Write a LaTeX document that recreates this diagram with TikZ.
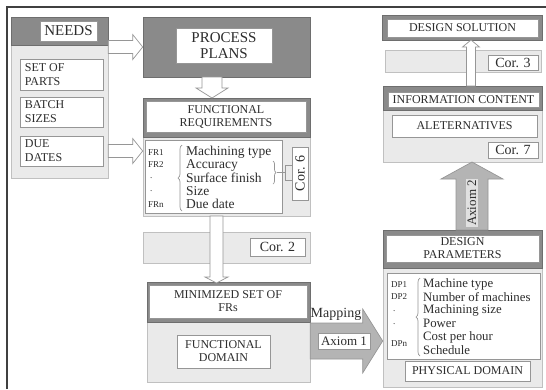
\documentclass[tikz,border=0pt]{standalone}
\usepackage{fontspec}
\setmainfont{Liberation Serif}
\usetikzlibrary{calc,decorations.pathreplacing}
\definecolor{hdrgray}{RGB}{138,138,138}
\definecolor{bodygray}{RGB}{234,234,234}
\definecolor{edgegray}{RGB}{150,150,150}
\definecolor{arrowgray}{RGB}{180,180,180}
\definecolor{textc}{RGB}{45,45,45}
\newcommand\fsz[2]{\fontsize{#1}{#2}\selectfont}
% box from corner (x1,y1) to (x2,y2): #1 style, #2 name, #3 x1, #4 y1, #5 x2, #6 y2, #7 text
\newcommand\bx[7]{%
  \node[#1, minimum width=#5pt-#3pt, minimum height=#6pt-#4pt] (#2) at ({(#3+#5)/2},{(#4+#6)/2}) {#7};}
% #1 style, #2 start, #3 end, #4 half shaft, #5 half head, #6 head length
\newcommand\blockarrow[6]{%
  \coordinate (bahead) at ($(#3)!#6!(#2)$);
  \path[#1] ($(#2)!#4!90:(#3)$) -- ($(bahead)!#4!90:(#3)$) -- ($(bahead)!#5!90:(#3)$)
    -- (#3) -- ($(bahead)!#5!-90:(#3)$) -- ($(bahead)!#4!-90:(#3)$)
    -- ($(#2)!#4!-90:(#3)$) -- cycle;}
\begin{document}
\begin{tikzpicture}[x=1pt,y=-1pt,
  body/.style={fill=bodygray, draw=edgegray!60, line width=0.6pt, inner sep=0pt},
  hdr/.style={fill=hdrgray, draw=hdrgray!80!black, line width=0.6pt, inner sep=0pt},
  wbox/.style={fill=white, draw=edgegray, line width=0.7pt, inner sep=0pt, align=center, text=textc},
  hollow/.style={fill=white, draw=edgegray, line width=0.7pt},
  solidarr/.style={fill=arrowgray, draw=edgegray, line width=0.7pt},
  capt/.style={font=\fsz{12}{13}},
  lefttxt/.style={anchor=west, align=left, inner sep=0pt, text=textc, font=\fsz{12}{14}},
  lbl/.style={anchor=west, inner sep=0pt, text=textc, font=\fsz{9}{10}},
  itm/.style={anchor=west, inner sep=0pt, text=textc, font=\fsz{13.5}{14}},
  dpitm/.style={anchor=west, inner sep=0pt, text=textc, font=\fsz{12.8}{13}},
  corf/.style={font=\fsz{14}{15}},
  frameline/.style={draw=black!75, line width=1.2pt},
  thinline/.style={draw=edgegray, line width=0.7pt}
]
\useasboundingbox (0,0) rectangle (546,389);
\draw[frameline] (7,389) -- (7,7) -- (546,7);

% NEEDS group
\bx{body}{needsBody}{11}{17}{108}{178}{}
\bx{hdr}{needsHdr}{11}{17}{108}{45}{}
\bx{wbox,font=\fsz{15}{16}}{needsT}{40}{21}{97}{41}{NEEDS}
\bx{wbox}{setParts}{20}{59}{103}{90}{}
\node[lefttxt] (setPartsT) at ([xshift=5pt]setParts.west) {SET OF\\PARTS};
\bx{wbox}{batch}{20}{97}{103}{127}{}
\node[lefttxt] (batchT) at ([xshift=5pt]batch.west) {BATCH\\SIZES};
\bx{wbox}{due}{20}{136}{103}{166}{}
\node[lefttxt] (dueT) at ([xshift=5pt]due.west) {DUE\\DATES};

% PROCESS PLANS
\bx{hdr}{pp}{143}{17}{310}{77}{}
\bx{wbox,font=\fsz{15}{16}}{ppT}{176}{28}{272}{63}{PROCESS\\PLANS}

% FUNCTIONAL REQUIREMENTS
\bx{body}{frBody}{143}{98}{310}{216}{}
\bx{hdr}{frHdr}{143}{98}{310}{137}{}
\bx{wbox,capt}{frT}{146}{101}{306}{132}{FUNCTIONAL\\REQUIREMENTS}
\bx{wbox}{frList}{145}{140}{282}{213}{}
\node[lbl] (fr1) at (148,153) {FR1};
\node[lbl] (fr2) at (148,165) {FR2};
\node[lbl] (frd1) at (150,178) {.};
\node[lbl] (frd2) at (150,191) {.};
\node[lbl] (frn) at (148,205) {FRn};
\draw[thinline, decorate, decoration={brace, amplitude=4pt}] (182,211) -- (182,145);
\node[itm] (i1) at (186,152) {Machining type};
\node[itm] (i2) at (186,165) {Accuracy};
\node[itm] (i3) at (186,178) {Surface finish};
\node[itm] (i4) at (186,191) {Size};
\node[itm] (i5) at (186,204) {Due date};
\node[wbox, rotate=90, minimum width=53pt, minimum height=16pt, corf] (cor6) at (300,173.5) {Cor. 6};
\draw[thinline, decorate, decoration={brace, amplitude=3pt}] (273,161) -- (273,184);
\coordinate (c6a) at (285,165);
\coordinate (c6b) at (285,180);
\draw[thinline] (277,172.5) -- (285,172.5);
\draw[thinline] (c6a) -- (c6b);
\draw[thinline] (c6a) -- (c6a -| cor6.north);
\draw[thinline] (c6b) -- (c6b -| cor6.north);

% Cor. 2 band
\bx{body}{cor2Band}{143}{232}{310}{263}{}
\bx{wbox,corf}{cor2}{250}{238}{305}{256}{Cor. 2}

% MINIMIZED SET
\bx{body}{minBody}{147}{282}{310}{382}{}
\bx{hdr}{minHdr}{147}{282}{310}{322}{}
\bx{wbox,capt}{minT}{149}{285}{307}{318}{MINIMIZED SET OF\\FRs}
\bx{wbox,capt}{fdT}{177}{335}{270}{368}{FUNCTIONAL\\DOMAIN}

% DESIGN PARAMETERS
\bx{body}{dpBody}{383}{230}{542}{387}{}
\bx{hdr}{dpHdr}{383}{230}{542}{268}{}
\bx{wbox,capt}{dpT}{386}{235}{539}{262}{DESIGN\\PARAMETERS}
\bx{wbox}{dpList}{387}{273}{540}{359}{}
\node[lbl] (dp1) at (391,285) {DP1};
\node[lbl] (dp2) at (391,297) {DP2};
\node[lbl] (dpd1) at (393,311) {.};
\node[lbl] (dpd2) at (393,324) {.};
\node[lbl] (dpn) at (391,344) {DPn};
\draw[thinline, decorate, decoration={brace, amplitude=4pt}] (420,356) -- (420,278);
\node[dpitm] (j1) at (423,284) {Machine type};
\node[dpitm] (j2) at (423,297) {Number of machines};
\node[dpitm] (j3) at (423,310.5) {Machining size};
\node[dpitm] (j4) at (423,323.5) {Power};
\node[dpitm] (j5) at (423,337) {Cost per hour};
\node[dpitm] (j6) at (423,350) {Schedule};
\bx{wbox,capt}{physT}{405}{361}{530}{381}{PHYSICAL DOMAIN}

% INFORMATION CONTENT
\bx{body}{infoBody}{383}{86}{542}{162}{}
\bx{hdr}{infoHdr}{383}{86}{542}{110}{}
\bx{wbox,capt}{infoT}{388}{92}{539}{107}{INFORMATION CONTENT}
\bx{wbox,capt}{alt}{392}{115}{537}{137}{ALETERNATIVES}
\bx{wbox,corf}{cor7}{488}{142}{538}{158}{Cor. 7}

% Cor. 3 band
\bx{body}{cor3Band}{385}{50}{541}{72}{}
\bx{wbox,corf}{cor3}{488}{55}{538}{70}{Cor. 3}

% DESIGN SOLUTION
\bx{hdr}{dsHdr}{382}{15}{542}{40}{}
\bx{wbox,capt}{dsT}{387}{19}{538}{37}{DESIGN SOLUTION}

% arrows
\coordinate (a1s) at (needsBody.east |- pp.west);
\blockarrow{hollow}{a1s}{pp.west}{6.5pt}{12.5pt}{10pt}
\coordinate (a2s) at (needsBody.east |- due.center);
\coordinate (a2e) at (frBody.west |- due.center);
\blockarrow{hollow}{a2s}{a2e}{6.5pt}{12.5pt}{10pt}
\coordinate (a3s) at (212,77);
\coordinate (a3e) at (212,98);
\blockarrow{hollow}{a3s}{a3e}{10pt}{16pt}{10pt}
\coordinate (a4s) at (216.5,216);
\coordinate (a4e) at (216.5,283);
\blockarrow{hollow}{a4s}{a4e}{6.5pt}{11.5pt}{6pt}
\coordinate (a5s) at (minBody.east |- 0,341);
\coordinate (a5e) at (dpBody.west |- 0,341);
\blockarrow{solidarr}{a5s}{a5e}{18pt}{32pt}{20pt}
\coordinate (a6s) at (472,230);
\coordinate (a6e) at (472,162);
\blockarrow{solidarr}{a6s}{a6e}{16pt}{31pt}{17pt}
\coordinate (a7s) at (471,86);
\coordinate (a7e) at (471,40);
\blockarrow{hollow}{a7s}{a7e}{4.5pt}{8.5pt}{7pt}

% arrow labels
\node[inner sep=0pt, text=textc, font=\fsz{14}{15}] (mapT) at (336,314) {Mapping};
\bx{wbox,font=\fsz{13}{14}}{ax1}{318}{333}{370}{349}{Axiom 1}
\node[rotate=90, fill=black!12, inner sep=1.5pt, text=textc, font=\fsz{13}{14}] (ax2) at (472,203) {Axiom 2};
\end{tikzpicture}
\end{document}
